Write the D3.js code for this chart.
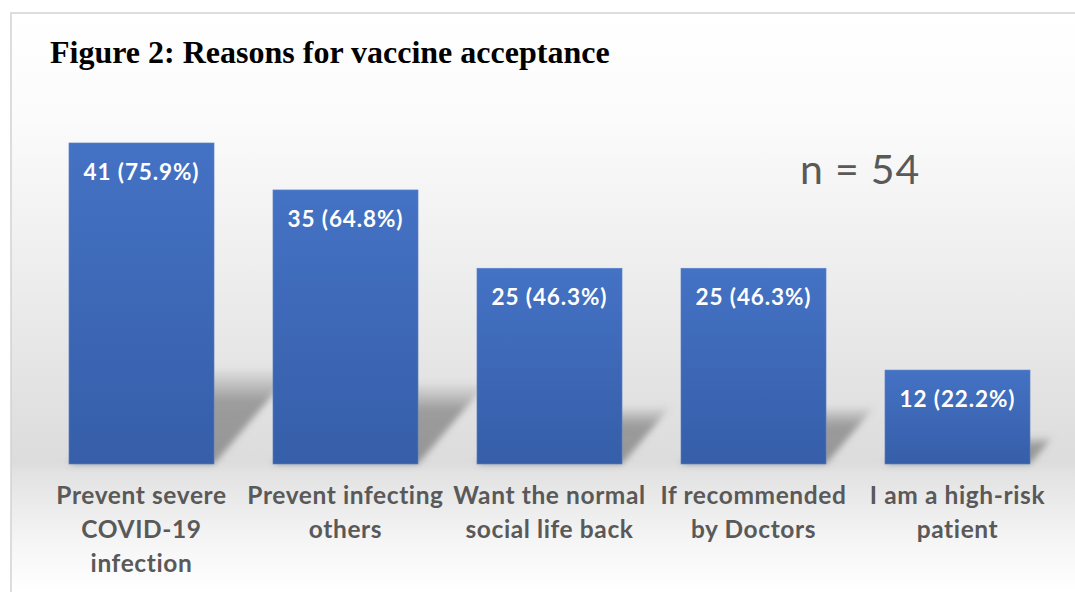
<!DOCTYPE html>
<html>
<head>
<meta charset="utf-8">
<script src="https://cdn.jsdelivr.net/npm/d3@7"></script>
<style>
  html, body { margin: 0; padding: 0; background: #ffffff; overflow: hidden; }
  svg { display: block; }
</style>
</head>
<body>
<svg id="chart" width="1075" height="592"></svg>
<script>
// ---- data ----
const categories = [
  ["Prevent severe", "COVID-19", "infection"],
  ["Prevent infecting", "others"],
  ["Want the normal", "social life back"],
  ["If recommended", "by Doctors"],
  ["I am a high-risk", "patient"]
];
const counts = [41, 35, 25, 25, 12];
const percents = ["75.9", "64.8", "46.3", "46.3", "22.2"];
const titleText = "Figure 2: Reasons for vaccine acceptance";
const sampleText = "n = 54";

// ---- setup ----
const svg = d3.select("#chart");
const W = 1075, H = 592;
const base = 464;

const ids = categories.map((c, i) => "c" + i);
const x = d3.scaleBand().domain(ids).range([39.5, 1059.5]).paddingInner(0.289).paddingOuter(0.1445);
const y = d3.scaleLinear().domain([0, 50]).range([base, base - 391.5]);

const defs = svg.append("defs");

// background gradient
const bg = defs.append("linearGradient").attr("id", "bgGrad")
  .attr("gradientUnits", "userSpaceOnUse").attr("x1", 0).attr("y1", 13).attr("x2", 0).attr("y2", 592);
[[13, "#ffffff"], [120, "#fbfbfb"], [300, "#ebebeb"], [462, "#dcdcdc"], [472, "#e2e2e2"], [540, "#f5f5f5"], [592, "#ffffff"]]
  .forEach(([o, c]) => bg.append("stop").attr("offset", ((o - 13) / (592 - 13))).attr("stop-color", c));

// bar gradient
const bgBar = defs.append("linearGradient").attr("id", "barGrad").attr("x1", 0).attr("y1", 0).attr("x2", 0).attr("y2", 1);
bgBar.append("stop").attr("offset", 0).attr("stop-color", "#4472c4");
bgBar.append("stop").attr("offset", 1).attr("stop-color", "#365ea9");

// shadow gradient
const sg = defs.append("linearGradient").attr("id", "shGrad").attr("x1", 0).attr("y1", 1).attr("x2", 0).attr("y2", 0);
sg.append("stop").attr("offset", 0).attr("stop-color", "#6a6a6a").attr("stop-opacity", 0.62);
sg.append("stop").attr("offset", 0.65).attr("stop-color", "#6a6a6a").attr("stop-opacity", 0.58);
sg.append("stop").attr("offset", 1).attr("stop-color", "#6a6a6a").attr("stop-opacity", 0.0);

const blur = defs.append("filter").attr("id", "blur").attr("x", "-30%").attr("y", "-30%").attr("width", "160%").attr("height", "160%");
blur.append("feGaussianBlur").attr("stdDeviation", 3);

// frame
svg.append("rect").attr("x", 11).attr("y", 13).attr("width", W).attr("height", H)
  .attr("fill", "url(#bgGrad)").attr("stroke", "#d2d2d2").attr("stroke-width", 1.5);

// title
svg.append("text").attr("x", 50).attr("y", 63)
  .attr("font-family", "'Liberation Serif', 'Times New Roman', serif")
  .attr("font-weight", "bold").attr("font-size", 32).attr("fill", "#000")
  .text(titleText);

// sample size
svg.append("text").attr("x", 800).attr("y", 184)
  .attr("font-family", "Lato, 'Open Sans', sans-serif")
  .attr("font-size", 41).attr("letter-spacing", 0.8).attr("fill", "#595959")
  .text(sampleText);

const data = counts.map((v, i) => ({ id: ids[i], v, p: percents[i], cat: categories[i] }));

// shadows
svg.append("g").selectAll("path").data(data).join("path")
  .attr("d", d => {
    const x0 = x(d.id), x1 = x0 + x.bandwidth();
    const hb = base - y(d.v);
    const h = 0.3 * hb, dx = 0.85 * h;
    return `M${x0},${base}L${x1},${base}L${x1 + dx},${base - h}L${x0 + dx},${base - h}Z`;
  })
  .attr("fill", "url(#shGrad)")
  .attr("filter", "url(#blur)");

// bars
svg.append("g").selectAll("rect").data(data).join("rect")
  .attr("x", d => x(d.id)).attr("y", d => y(d.v))
  .attr("width", x.bandwidth()).attr("height", d => base - y(d.v))
  .attr("fill", "url(#barGrad)")
  .attr("stroke", "#5a82c8").attr("stroke-width", 0.6);

// value labels
svg.append("g").selectAll("text").data(data).join("text")
  .attr("x", d => x(d.id) + x.bandwidth() / 2)
  .attr("y", d => y(d.v) + 37)
  .attr("text-anchor", "middle")
  .attr("font-family", "Lato, 'Open Sans', sans-serif")
  .attr("font-weight", "bold").attr("font-size", 22.5).attr("letter-spacing", 0.9).attr("fill", "#ffffff")
  .text(d => `${d.v} (${d.p}%)`);

// category labels
const cg = svg.append("g").selectAll("text").data(data).join("text")
  .attr("text-anchor", "middle")
  .attr("font-family", "Lato, 'Open Sans', sans-serif")
  .attr("font-weight", "bold").attr("font-size", 24.5).attr("letter-spacing", 0.6).attr("fill", "#595959");
cg.each(function (d) {
  const t = d3.select(this);
  d.cat.forEach((line, j) => {
    t.append("tspan").attr("x", x(d.id) + x.bandwidth() / 2).attr("y", 504 + j * 34).text(line);
  });
});
</script>
</body>
</html>
